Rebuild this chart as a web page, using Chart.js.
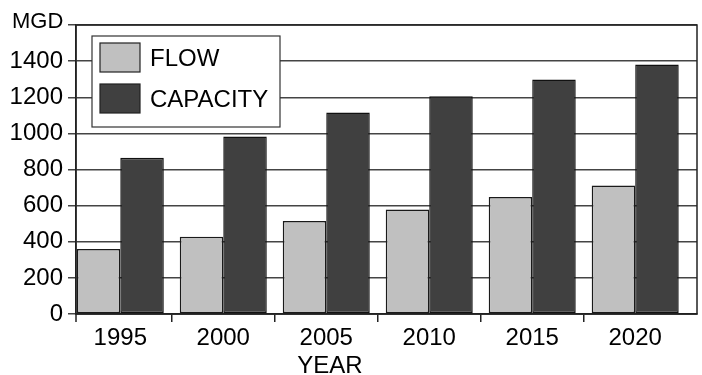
<!DOCTYPE html>
<html><head><meta charset="utf-8">
<script src="https://cdn.jsdelivr.net/npm/chart.js@4.4.1/dist/chart.umd.min.js"></script>
<style>html,body{margin:0;padding:0;background:#fff}#wrap{width:702px;height:375px}</style>
</head><body><div id="wrap"><canvas id="c" width="702" height="375"></canvas></div>
<script>
const years = ['1995','2000','2005','2010','2015','2020'];
const flow = [360, 428, 515, 578, 648, 712];
const capacity = [865, 983, 1115, 1205, 1298, 1382];
const yTicks = [0,200,400,600,800,1000,1200,1400];
const seriesNames = ['FLOW','CAPACITY'];
const yUnit = 'MGD';
const xTitle = 'YEAR';

const FONT = '"Liberation Sans", Arial, sans-serif';
const FS = 24;

const decor = {
  id:'decor',
  afterDraw(chart){
    const ctx = chart.ctx, a = chart.chartArea;
    ctx.save();
    ctx.strokeStyle = '#222'; ctx.lineWidth = 1.5;
    ctx.strokeRect(a.left, a.top, a.right - a.left, a.bottom - a.top);
    ctx.beginPath(); ctx.moveTo(a.left, a.bottom); ctx.lineTo(a.left, a.bottom + 8); ctx.stroke();
    ctx.fillStyle = '#000';
    ctx.textAlign = 'left'; ctx.textBaseline = 'alphabetic';
    ctx.font = '22px ' + FONT;
    ctx.fillText(yUnit, 12, 28);
    ctx.font = FS + 'px ' + FONT;
    const lx = 92, ly = 36, lw = 188, lh = 91;
    ctx.fillStyle = '#fff'; ctx.fillRect(lx, ly, lw, lh);
    ctx.strokeStyle = '#333'; ctx.lineWidth = 1.2; ctx.strokeRect(lx, ly, lw, lh);
    chart.data.datasets.forEach((ds, i) => {
      const sy = 43 + i*41;
      ctx.fillStyle = ds.backgroundColor; ctx.fillRect(100, sy, 40, 29);
      ctx.strokeStyle = '#222'; ctx.lineWidth = 1.2; ctx.strokeRect(100, sy, 40, 29);
      ctx.fillStyle = '#000'; ctx.textBaseline = 'alphabetic';
      ctx.fillText(ds.label, 150, sy + 23);
    });
    ctx.textAlign = 'center'; ctx.textBaseline = 'alphabetic';
    ctx.fillText(xTitle, 330, 373);
    ctx.restore();
  }
};

new Chart(document.getElementById('c'), {
  type:'bar',
  data:{
    labels: years,
    datasets:[
      {label: seriesNames[0], data: flow, backgroundColor:'#c0c0c0', borderColor:'#1a1a1a', borderWidth:1.5, borderSkipped:false},
      {label: seriesNames[1], data: capacity, backgroundColor:'#404040', borderColor:'#111', borderWidth:1.5, borderSkipped:false}
    ]
  },
  options:{
    responsive:false, animation:false,
    layout:{padding:{top:25, right:5, left:0, bottom:0}},
    plugins:{legend:{display:false}, tooltip:{enabled:false}},
    datasets:{bar:{categoryPercentage:0.845, barPercentage:1.0}},
    scales:{
      x:{
        offset:true,
        grid:{offset:true, drawOnChartArea:false, drawTicks:true, tickLength:8, lineWidth:1.5,
          color:(c)=> (c.type === 'tick' && c.index > 0 && c.index < years.length) ? '#222' : 'rgba(0,0,0,0)'},
        border:{display:true, color:'#222', width:1.5},
        ticks:{color:'#000', font:{family:FONT, size:FS}, padding:2},
        afterFit(s){ s.height = 61; },
        afterUpdate(s){ s._startValue = -0.43; s._valueRange = 6.03; }
      },
      y:{
        min:0, max:1600,
        afterBuildTicks(s){ s.ticks = yTicks.concat([1600]).map(v => ({value:v})); },
        grid:{color:'#444', lineWidth:1.5, tickLength:8, drawTicks:true},
        border:{display:true, color:'#222', width:1.5},
        ticks:{color:'#000', font:{family:FONT, size:FS}, padding:5,
          callback:(v)=> yTicks.includes(v) ? String(v) : ''},
        afterFit(s){ s.width = 76; }
      }
    }
  },
  plugins:[decor]
});
</script></body></html>
